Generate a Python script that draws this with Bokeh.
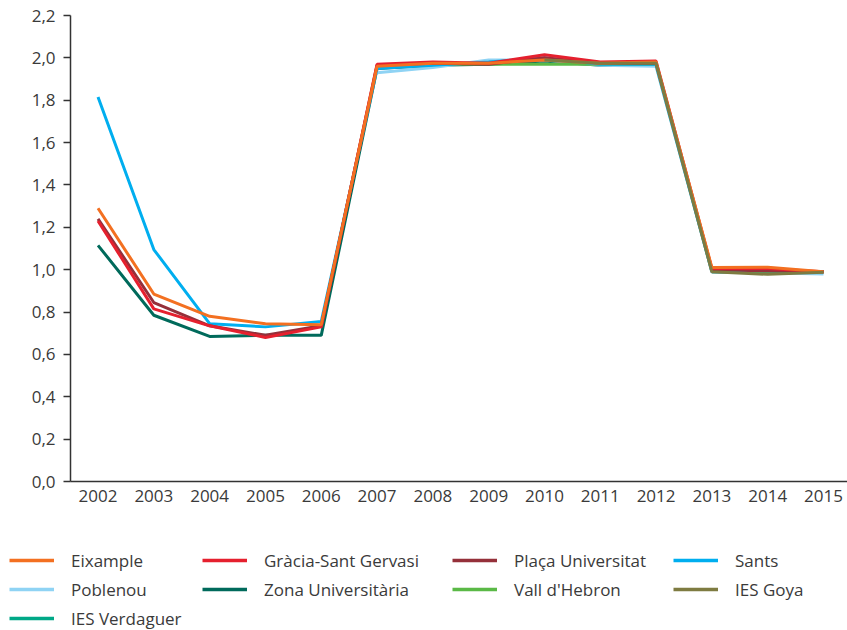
from bokeh.plotting import figure
from bokeh.models import (Range1d, FixedTicker, CustomJSTickFormatter, Legend, LegendItem,
                          ColumnDataSource)
from bokeh.layouts import column
from bokeh.embed import file_html
from bokeh.resources import INLINE

nan = float("nan")

years = [2002, 2003, 2004, 2005, 2006, 2007, 2008, 2009, 2010, 2011, 2012, 2013, 2014, 2015]
y_ticks = [0.0, 0.2, 0.4, 0.6, 0.8, 1.0, 1.2, 1.4, 1.6, 1.8, 2.0, 2.2]

eixample = [1.29, 0.885, 0.78, 0.745, 0.74, 1.96, 1.975, 1.975, 1.99, 1.975, 1.98, 1.01, 1.012, 0.99]
gracia = [1.23, 0.815, 0.735, 0.68, 0.73, 1.97, 1.98, 1.975, 2.015, 1.98, 1.985, 1.005, 1.005, 0.99]
placa_univ = [1.24, 0.845, 0.735, 0.69, 0.735, 1.965, 1.975, 1.97, 2.0, 1.975, 1.975, 1.0, 0.995, 0.99]
sants = [1.815, 1.095, 0.745, 0.73, 0.755, 1.95, 1.965, 1.98, 2.0, 1.97, 1.97, 0.995, 0.995, 0.99]
poblenou = [nan, nan, nan, nan, nan, 1.93, 1.955, 1.99, 1.99, 1.965, 1.96, 0.99, 0.985, 0.98]
zona_univ = [1.115, 0.785, 0.685, 0.69, 0.69, 1.95, 1.965, 1.97, 1.985, 1.965, 1.965, 0.99, 0.985, 0.99]
vall_hebron = [nan, nan, nan, nan, nan, nan, 1.97, 1.97, 1.97, 1.97, 1.97, 0.995, 0.985, 0.99]
ies_goya = [nan, nan, nan, nan, nan, nan, nan, nan, 1.99, 1.975, 1.975, 0.99, 0.978, 0.988]
ies_verdaguer = [nan, nan, nan, nan, nan, nan, nan, nan, nan, nan, nan, 0.99, 0.985, 0.99]

series = [
    ("Eixample", eixample, "#F37021"),
    ("Gràcia-Sant Gervasi", gracia, "#E5202E"),
    ("Plaça Universitat", placa_univ, "#95303A"),
    ("Sants", sants, "#00AEEF"),
    ("Poblenou", poblenou, "#8FD3F4"),
    ("Zona Universitària", zona_univ, "#006A5B"),
    ("Vall d'Hebron", vall_hebron, "#5AB946"),
    ("IES Goya", ies_goya, "#7E7B41"),
    ("IES Verdaguer", ies_verdaguer, "#00A887"),
]
draw_order = ["IES Verdaguer", "Zona Universitària", "Poblenou", "Vall d'Hebron", "Sants",
              "Plaça Universitat", "Gràcia-Sant Gervasi", "Eixample", "IES Goya"]

FONT = "Open Sans"
TXT = "#3a3a3a"

# ---------------- main chart ----------------
p = figure(width=847, height=540, output_backend="svg", toolbar_location=None,
           x_range=Range1d(2001.507, 2015.43), y_range=Range1d(0, 2.2),
           min_border_left=70, min_border_right=0, min_border_top=15, min_border_bottom=59)
p.outline_line_color = None
p.xgrid.visible = False
p.ygrid.visible = False
p.background_fill_color = "white"

lookup = {name: (vals, col) for name, vals, col in series}
for name in draw_order:
    vals, col = lookup[name]
    src = ColumnDataSource(dict(x=years, y=vals))
    p.line("x", "y", source=src, line_color=col, line_width=3)

p.xaxis.ticker = FixedTicker(ticks=years)
p.xaxis.formatter = CustomJSTickFormatter(code="return tick.toFixed(0)")
p.xaxis.major_tick_line_color = None
p.xaxis.minor_tick_line_color = None
p.xaxis.major_tick_out = 0
p.xaxis.major_label_standoff = 8
p.xaxis.axis_line_color = "#333333"
p.xaxis.axis_line_width = 1.5

p.yaxis.ticker = FixedTicker(ticks=y_ticks)
p.yaxis.formatter = CustomJSTickFormatter(code="return tick.toFixed(1).replace('.', ',')")
p.yaxis.minor_tick_line_color = None
p.yaxis.major_tick_out = 7
p.yaxis.major_tick_in = 0
p.yaxis.major_tick_line_color = "#333333"
p.yaxis.major_tick_line_width = 1.5
p.yaxis.major_label_standoff = 8
p.yaxis.axis_line_color = "#333333"
p.yaxis.axis_line_width = 1.5

for ax in (p.xaxis, p.yaxis):
    ax.major_label_text_font = FONT
    ax.major_label_text_font_size = "17px"
    ax.major_label_text_color = TXT

# ---------------- legend panel ----------------
LH = 90
lg = figure(width=847, height=LH, output_backend="svg", toolbar_location=None,
            x_range=Range1d(0, 1), y_range=Range1d(0, 1),
            x_axis_location=None, y_axis_location=None,
            min_border=0, min_border_left=0, min_border_right=0, min_border_top=0, min_border_bottom=0)
lg.outline_line_color = None
lg.xgrid.visible = False
lg.ygrid.visible = False

for fig in (p, lg):
    try:
        fig.frame_align = False
    except Exception:
        pass

# legend-only renderers: same data, lying outside this panel's ranges (never visible)
leg_renderers = {}
for name, vals, col in series:
    leg_renderers[name] = lg.line(x=years, y=vals, line_color=col, line_width=3.5)

columns_items = [
    ["Eixample", "Poblenou", "IES Verdaguer"],
    ["Gràcia-Sant Gervasi", "Zona Universitària"],
    ["Plaça Universitat", "Vall d'Hebron"],
    ["Sants", "IES Goya"],
]
col_x = [9, 202, 452, 673]
ITEM_H = 24
SP = 5
TOP = 8
for names, x0 in zip(columns_items, col_x):
    n = len(names)
    height = n * ITEM_H + (n - 1) * SP
    vy = LH - TOP - height
    leg = Legend(items=[LegendItem(label=nm, renderers=[leg_renderers[nm]]) for nm in names],
                 orientation="vertical", location=(x0, vy), padding=0, margin=0, spacing=SP,
                 glyph_width=45, glyph_height=ITEM_H, label_height=ITEM_H, label_standoff=17,
                 label_text_font=FONT, label_text_font_size="17px", label_text_color=TXT,
                 border_line_color=None, background_fill_alpha=0)
    lg.add_layout(leg)

layout = column(p, lg, spacing=0)
open("out.html", "w").write(file_html(layout, INLINE))
